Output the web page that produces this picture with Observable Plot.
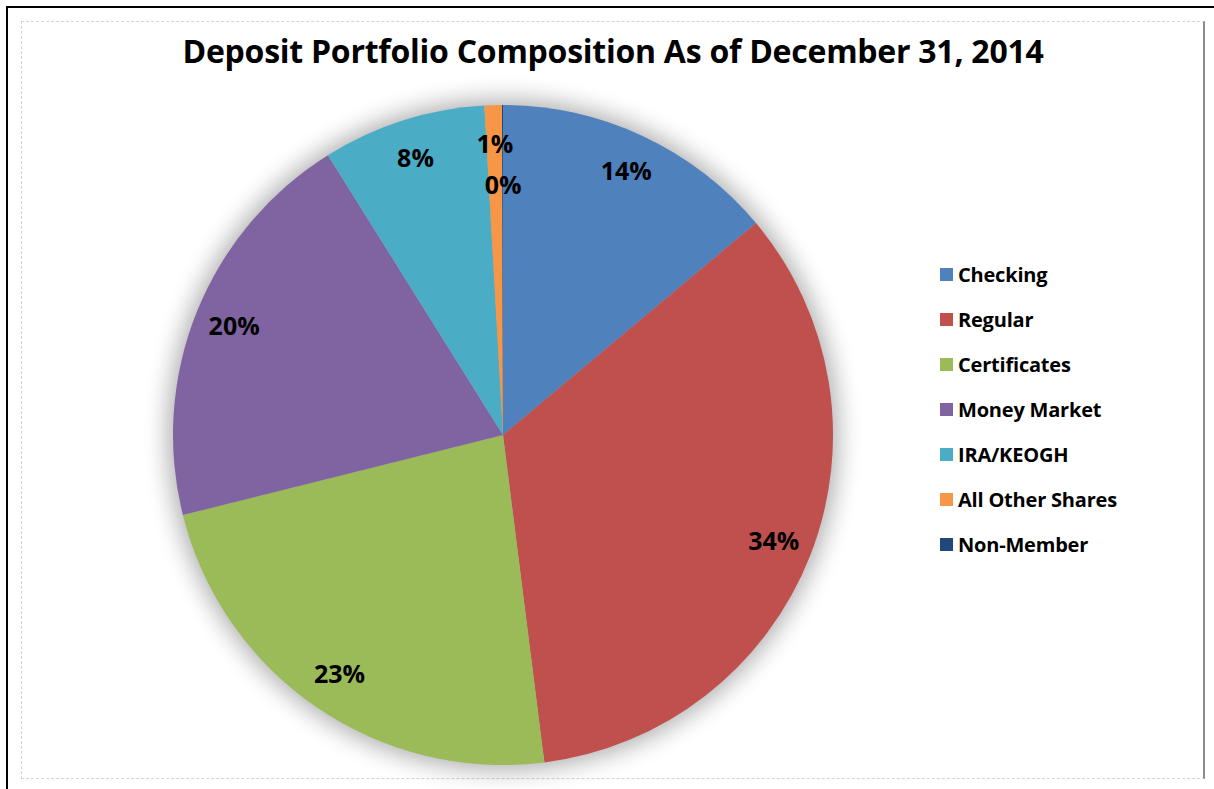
<!DOCTYPE html>
<html><head><meta charset="utf-8">
<script src="https://cdn.jsdelivr.net/npm/d3@7"></script>
<script src="https://cdn.jsdelivr.net/npm/@observablehq/plot@0.6"></script>
<style>
html,body{margin:0;padding:0;background:#fff;width:1214px;height:789px;overflow:hidden;font-family:"Open Sans",Lato,sans-serif;}
#outer{position:absolute;left:6px;top:6px;width:1208px;height:783px;border-left:2px solid #000;border-top:2px solid #000;box-sizing:border-box;}
#inner{position:absolute;left:21px;top:21px;width:1184px;height:758px;border:1px dashed #d4d4d4;border-right:2px solid #8a8a8a;box-sizing:border-box;}
#title{position:absolute;left:21px;width:1184px;top:31px;text-align:center;font-weight:bold;font-size:32px;line-height:40px;color:#000;letter-spacing:-0.25px;}
#chart{position:absolute;left:0;top:70px;}
#legend{position:absolute;left:940px;top:252px;}
.row{height:45px;display:flex;align-items:center;font-weight:bold;font-size:20px;color:#000;white-space:nowrap;letter-spacing:-0.2px;}
.sw{width:13px;height:13px;margin-right:5px;flex:none;}
</style></head>
<body>
<div id="outer"></div>
<div id="inner"></div>
<div id="title">Deposit Portfolio Composition As of December 31, 2014</div>
<div id="chart"></div>
<div id="legend"></div>
<script>
const categories = ["Checking","Regular","Certificates","Money Market","IRA/KEOGH","All Other Shares","Non-Member"];
const shares = [13.9, 34.1, 23.1, 20.0, 8.0, 0.85, 0.05];
const colors = ["#4F81BD","#C0504D","#9BBB59","#8064A2","#4BACC6","#F79646","#1F497D"];

const data = categories.map((c, i) => ({category: c, value: shares[i], color: colors[i]}));
const arcs = d3.pie().sort(null).value(d => d.value)(data);
const labels = arcs.map(a => {
  const mid = (a.startAngle + a.endAngle) / 2;
  const k = a.data.value < 0.5 ? 0.755 : 0.88;
  return {x: Math.sin(mid) * k, y: Math.cos(mid) * k, text: Math.round(a.data.value) + "%"};
});

function pieMark(index, scales) {
  const cx = scales.x(0), cy = scales.y(0), r = scales.x(1) - cx;
  const g = d3.create("svg:g");
  const f = g.append("defs").append("filter").attr("id", "glow")
    .attr("x", "-30%").attr("y", "-30%").attr("width", "160%").attr("height", "160%");
  f.append("feGaussianBlur").attr("stdDeviation", 12);
  g.append("circle").attr("cx", cx).attr("cy", cy).attr("r", r + 5)
    .attr("fill", "#000").attr("opacity", 0.32).attr("filter", "url(#glow)");
  const arc = d3.arc().innerRadius(0).outerRadius(r);
  g.selectAll("path").data(arcs).join("path")
    .attr("transform", `translate(${cx},${cy})`)
    .attr("d", arc)
    .attr("fill", d => d.data.color);
  return g.node();
}

const chart = Plot.plot({
  width: 1214,
  height: 719,
  margin: 0,
  style: {background: "none", overflow: "visible"},
  x: {domain: [-1, 1], range: [173, 833], axis: null},
  y: {domain: [-1, 1], range: [695, 35], axis: null},
  marks: [
    pieMark,
    Plot.text(labels, {x: "x", y: "y", text: "text", fontSize: 25, fontWeight: "bold",
      fill: "#000", fontFamily: "'Open Sans', Lato, sans-serif"})
  ]
});
document.getElementById("chart").append(chart);

const legend = document.getElementById("legend");
categories.forEach((c, i) => {
  const row = document.createElement("div");
  row.className = "row";
  const sw = document.createElement("span");
  sw.className = "sw";
  sw.style.background = colors[i];
  row.append(sw, document.createTextNode(c));
  legend.append(row);
});
</script>
</body></html>
